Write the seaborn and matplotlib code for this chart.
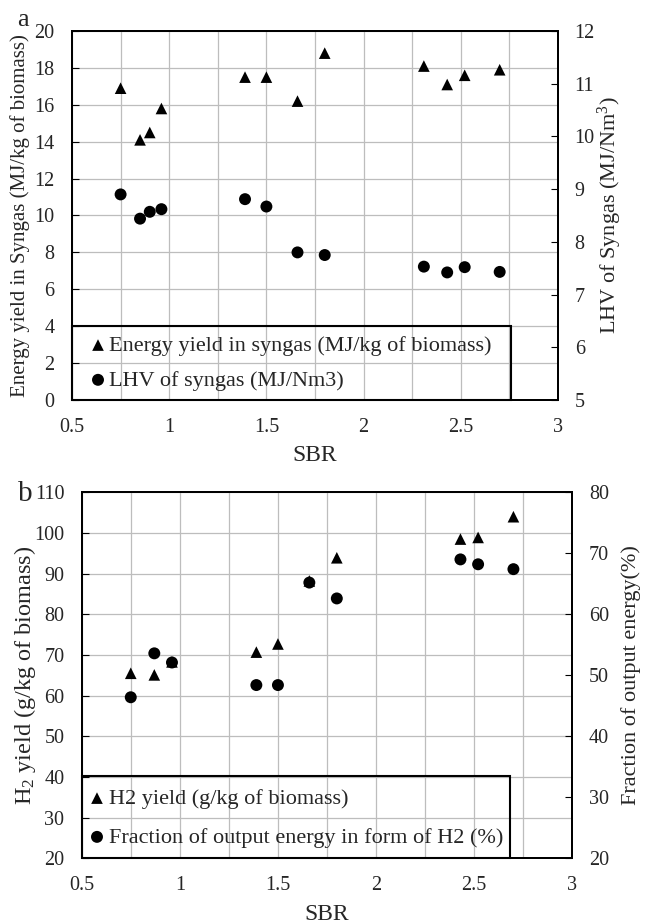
import matplotlib
matplotlib.use("Agg")
import matplotlib.pyplot as plt
from matplotlib.patches import Rectangle
from matplotlib.ticker import MultipleLocator
import seaborn as sns
import pandas as pd

# Panel a: steam-to-biomass ratio runs
sbr_a = [0.75, 0.85, 0.90, 0.96, 1.39, 1.50, 1.66, 1.80, 2.31, 2.43, 2.52, 2.70]
energy_yield = [16.9, 14.1, 14.5, 15.8, 17.5, 17.5, 16.2, 18.8, 18.1, 17.1, 17.6, 17.9]
lhv_syngas = [8.90, 8.44, 8.57, 8.62, 8.81, 8.67, 7.80, 7.75, 7.53, 7.42, 7.52, 7.43]

# Panel b
sbr_b = [0.75, 0.87, 0.96, 1.39, 1.50, 1.66, 1.80, 2.43, 2.52, 2.70]
h2_yield = [65.5, 65.1, 68.3, 70.7, 72.7, 88.2, 93.9, 98.5, 98.9, 104.0]
h2_fraction = [46.4, 53.6, 52.1, 48.4, 48.4, 65.2, 62.6, 69.0, 68.2, 67.4]

x_ticks = [0.5, 1, 1.5, 2, 2.5, 3]
x_tick_labels = ["0.5", "1", "1.5", "2", "2.5", "3"]

df_a = pd.DataFrame({"SBR": sbr_a, "energy": energy_yield, "lhv": lhv_syngas})
df_b = pd.DataFrame({"SBR": sbr_b, "h2": h2_yield, "frac": h2_fraction})

sns.set_style("white")
plt.rcParams["font.family"] = ["Liberation Serif", "DejaVu Serif"]
plt.rcParams["mathtext.fontset"] = "custom"
plt.rcParams["mathtext.rm"] = "Liberation Serif"

TICK_FS = 14.5
LEG_FS = 16
GRID = "#bdbdbd"
TRI_S = 70
DOT_S = 74

fig = plt.figure(figsize=(6.52, 9.23), dpi=100)
W, H = 652, 923


def axes_px(left, top, right, bottom):
    return fig.add_axes([left / W, 1 - bottom / H, (right - left) / W, (bottom - top) / H])


def style_pair(ax, ax2, ylim, yticks, ylim2, yticks2):
    ax.set_xlim(0.5, 3)
    ax.set_xticks(x_ticks)
    ax.set_xticklabels(x_tick_labels)
    ax.xaxis.set_minor_locator(MultipleLocator(0.25))
    ax.set_ylim(*ylim)
    ax.set_yticks(yticks)
    ax2.set_ylim(*ylim2)
    ax2.set_yticks(yticks2)
    ax.grid(True, which="both", axis="x", color=GRID, lw=0.9)
    ax.grid(True, which="major", axis="y", color=GRID, lw=0.9)
    ax.set_axisbelow(True)
    ax.tick_params(axis="x", which="major", direction="in", length=5,
                   labelsize=TICK_FS, pad=13, color="black")
    ax.tick_params(axis="y", which="major", direction="in", length=5,
                   labelsize=TICK_FS, pad=12.5, color="black")
    ax.tick_params(axis="x", which="minor", length=0)
    ax2.tick_params(axis="y", direction="in", length=5, labelsize=TICK_FS,
                    pad=12, color="black")
    for a in (ax, ax2):
        for s in a.spines.values():
            s.set_color("black")
            s.set_linewidth(1.4)
    ax.set_xlabel("SBR", fontsize=17, labelpad=6)


def legend_box(ax2, handles, labels, width, height, x0, yc, spacing, textpad):
    ax2.add_patch(Rectangle((0, 0), width, height, transform=ax2.transAxes,
                            fill=False, edgecolor="black", lw=1.5,
                            clip_on=False, zorder=6))
    ax2.legend(handles, labels, loc="center left", bbox_to_anchor=(x0, yc),
               frameon=False, fontsize=LEG_FS, handlelength=0.7,
               handletextpad=textpad, labelspacing=spacing, borderpad=0,
               borderaxespad=0)


# ---- panel a ----
ax_a = axes_px(72, 31, 558, 400)
ax_a2 = ax_a.twinx()
sns.scatterplot(data=df_a, x="SBR", y="energy", marker="^", color="black",
                s=TRI_S, edgecolor="none", ax=ax_a,
                label="Energy yield in syngas (MJ/kg of biomass)", legend=False)
sns.scatterplot(data=df_a, x="SBR", y="lhv", marker="o", color="black",
                s=DOT_S, edgecolor="none", ax=ax_a2,
                label="LHV of syngas (MJ/Nm3)", legend=False)
style_pair(ax_a, ax_a2, (0, 20), range(0, 21, 2), (5, 12), range(5, 13))
ax_a.set_ylabel("Energy yield in Syngas (MJ/kg of biomass)", fontsize=15)
ax_a.yaxis.set_label_coords(-0.0864, 0.5)
ax_a2.set_ylabel("LHV of Syngas (MJ/Nm$\\mathregular{^3}$)", fontsize=16)
ax_a2.yaxis.set_label_coords(1.078, 0.5)
h1, l1 = ax_a.get_legend_handles_labels()
h2, l2 = ax_a2.get_legend_handles_labels()
legend_box(ax_a2, h1 + h2, l1 + l2, 0.903, 0.2, 0.0375, 0.1003, 0.64, 0.15)
fig.text(23 / W, 1 - 20 / H, "a", fontsize=19, ha="center", va="center")

# ---- panel b ----
ax_b = axes_px(81.7, 492.3, 572.3, 858.3)
ax_b2 = ax_b.twinx()
sns.scatterplot(data=df_b, x="SBR", y="h2", marker="^", color="black",
                s=TRI_S, edgecolor="none", ax=ax_b,
                label="H2 yield (g/kg of biomass)", legend=False)
sns.scatterplot(data=df_b, x="SBR", y="frac", marker="o", color="black",
                s=DOT_S, edgecolor="none", ax=ax_b2,
                label="Fraction of output energy in form of H2 (%)", legend=False)
style_pair(ax_b, ax_b2, (20, 110), range(20, 111, 10), (20, 80), range(20, 81, 10))
ax_b.set_ylabel("H$\\mathregular{_2}$ yield (g/kg of biomass)", fontsize=17.5)
ax_b.yaxis.set_label_coords(-0.0885, 0.5)
ax_b2.set_ylabel("Fraction of output energy(%)", fontsize=16)
ax_b2.yaxis.set_label_coords(1.099, 0.5)
h1, l1 = ax_b.get_legend_handles_labels()
h2, l2 = ax_b2.get_legend_handles_labels()
legend_box(ax_b2, h1 + h2, l1 + l2, 0.873, 0.225, 0.0153, 0.110, 0.82, 0.2)
fig.text(25 / W, 1 - 494 / H, "b", fontsize=21, ha="center", va="center")

fig.savefig("out.png", dpi=100)
